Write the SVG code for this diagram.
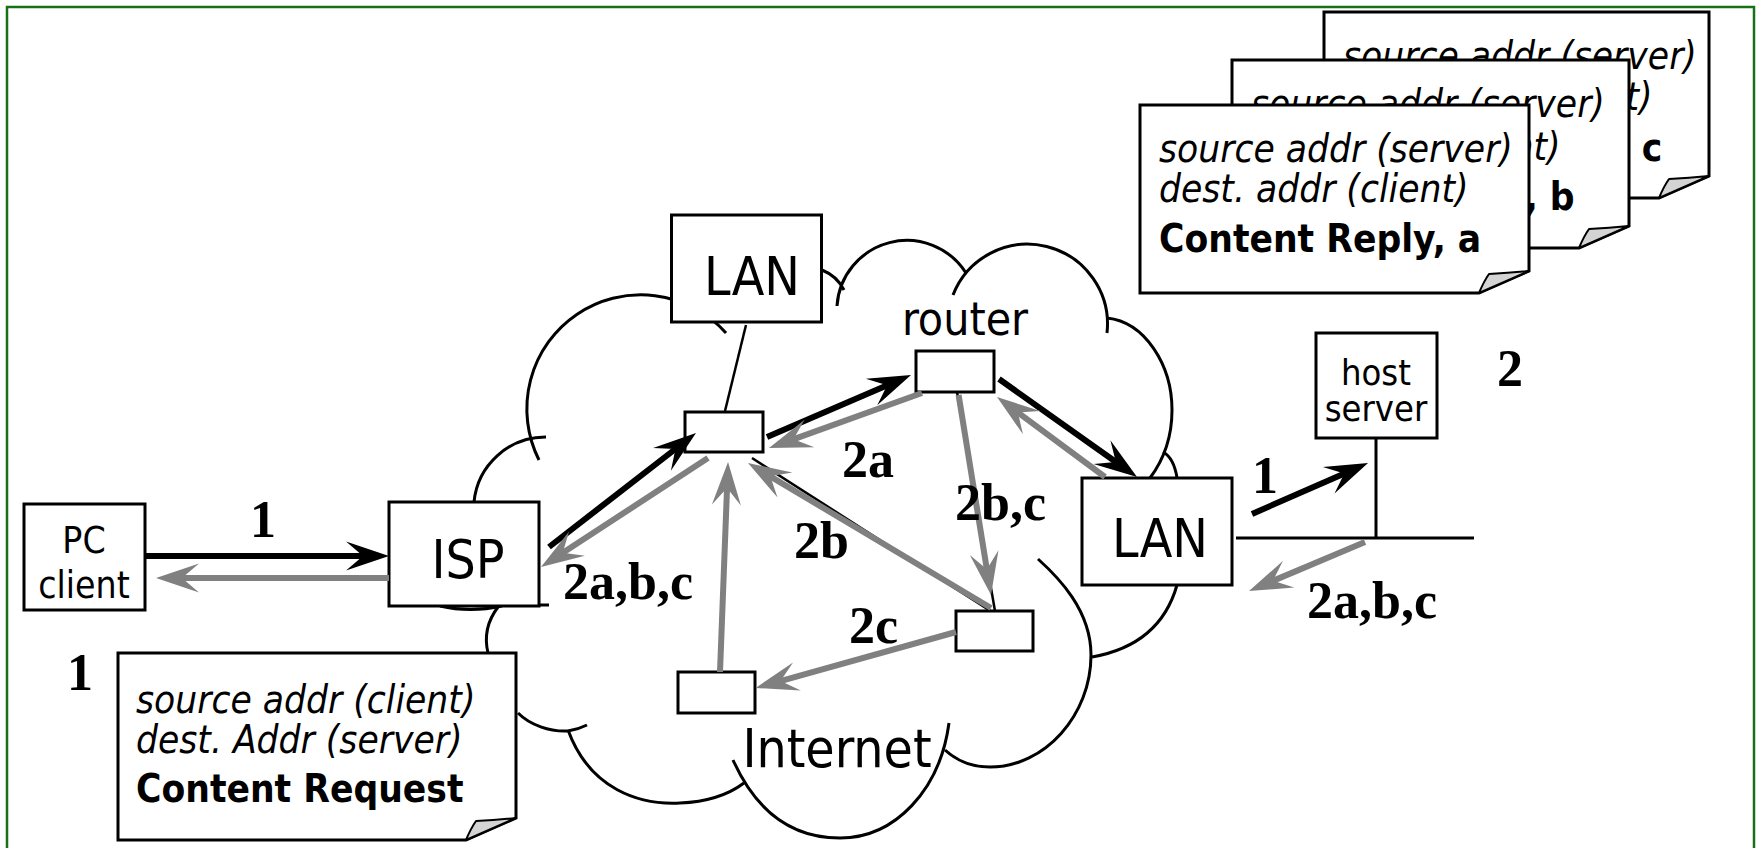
<svg xmlns="http://www.w3.org/2000/svg" width="1756" height="848" viewBox="0 0 1756 848">
<style>
.box{fill:#fff;stroke:#000;stroke-width:3}
.cl{fill:none;stroke:#000;stroke-width:3}
.lnk{fill:none;stroke:#000;stroke-width:2.5}
.blk{fill:none;stroke:#000;stroke-width:6}
.gry{fill:none;stroke:#808080;stroke-width:6}
.t{font-family:"DejaVu Sans Condensed","DejaVu Sans",sans-serif;font-stretch:condensed;fill:#000}
.lbl{font-family:"Liberation Serif","Times New Roman",serif;font-weight:bold;font-size:52px;fill:#000}
.note{fill:#fff;stroke:#000;stroke-width:3}
.fold{fill:#d4d4d4;stroke:#000;stroke-width:2;stroke-linejoin:round}
.it{font-family:"DejaVu Sans Condensed","DejaVu Sans",sans-serif;font-stretch:condensed;font-style:italic;font-size:38.5px}
.bd{font-family:"DejaVu Sans Condensed","DejaVu Sans",sans-serif;font-stretch:condensed;font-weight:bold;font-size:38.5px}
</style>
<defs>
<marker id="hb" markerUnits="userSpaceOnUse" viewBox="-25 -16 50 32" markerWidth="50" markerHeight="32" refX="0" refY="0" orient="auto"><path d="M22,0 L-21,-14.5 L-4,0 L-21,14.5 Z" fill="#000"/></marker>
<marker id="hg" markerUnits="userSpaceOnUse" viewBox="-25 -16 50 32" markerWidth="50" markerHeight="32" refX="0" refY="0" orient="auto"><path d="M22,0 L-21,-14.5 L-4,0 L-21,14.5 Z" fill="#808080"/></marker>
</defs>
<rect x="7" y="7" width="1747" height="850" fill="#fff" stroke="#187018" stroke-width="2.5"/>

<g id="cloud">
<path class="cl" d="M474,502 A72,72 0 0 1 546,437"/>
<path class="cl" d="M539,460 A114,114 0 0 1 726,333"/>
<path class="cl" d="M822,270 Q837,276 844,290"/>
<path class="cl" d="M837,306 A70,70 0 0 1 966,273"/>
<path class="cl" d="M953,295 A80,80 0 0 1 1107,333"/>
<path class="cl" d="M1107,318 C1145,322 1172,365 1172,410 C1172,440 1162,462 1150,478"/>
<path class="cl" d="M1163,452 Q1174,458 1177,478"/>
<path class="cl" d="M1177,585 Q1160,645 1092,657"/>
<path class="cl" d="M1038,559 C1058,577 1091,610 1091,655 C1091,715 1045,767 990,767 C972,767 957,761 945,750"/>
<path class="cl" d="M733,760 C760,820 800,838 840,838 C895,838 940,790 949,723"/>
<path class="cl" d="M568,730 C590,790 640,805 680,803 C705,802 728,795 744,783"/>
<path class="cl" d="M498,607 Q482,628 488,653"/>
<path class="cl" d="M518,713 C530,725 550,732 568,731 C575,730 581,728 587,725"/>
<path class="cl" d="M440,606 Q470,613 502,606"/>
<path class="cl" d="M538,605 H549"/>
<text class="t" x="837" y="767" font-size="53" text-anchor="middle">Internet</text>
<text class="t" x="965" y="335" font-size="46" text-anchor="middle">router</text>
</g>

<g id="links">
<path class="lnk" d="M746,325 L725,411"/>
<path class="lnk" d="M752,458 L992,612"/>
<path class="lnk" d="M957,392 L995,611"/>
<path class="cl" d="M1376,438 V538 M1236,538 H1474"/>
</g>

<g id="pc"><rect class="box" x="24" y="504" width="121" height="106"/>
<text class="t" font-size="37" text-anchor="middle"><tspan x="84" y="553">PC</tspan><tspan x="84" y="598">client</tspan></text></g>
<g id="isp"><rect class="box" x="389" y="502" width="150" height="104"/>
<text class="t" x="468" y="578" font-size="53" text-anchor="middle">ISP</text></g>
<g id="lan1"><rect class="box" x="671.5" y="215" width="150" height="107"/>
<text class="t" x="752" y="295" font-size="53" text-anchor="middle">LAN</text></g>
<g id="lan2"><rect class="box" x="1082" y="478" width="150" height="107"/>
<text class="t" x="1160" y="557" font-size="53" text-anchor="middle">LAN</text></g>
<g id="host"><rect class="box" x="1316" y="333" width="121" height="105"/>
<text class="t" font-size="36" text-anchor="middle"><tspan x="1376" y="385">host</tspan><tspan x="1376" y="421">server</tspan></text></g>
<g id="r1"><rect class="box" x="685" y="412" width="78" height="40"/></g>
<g id="r2"><rect class="box" x="916" y="351" width="78" height="41"/></g>
<g id="r3"><rect class="box" x="956" y="611" width="77" height="40"/></g>
<g id="r4"><rect class="box" x="678" y="672" width="77" height="41"/></g>

<g id="connectors">
<path class="blk" marker-end="url(#hb)" d="M146,556 L367,556"/>
<path class="gry" marker-end="url(#hg)" d="M389,578 L178,578"/>
<path class="blk" marker-end="url(#hb)" d="M549,547 L678.6,446.5"/>
<path class="gry" marker-end="url(#hg)" d="M708,458 L559.4,555"/>
<path class="blk" marker-end="url(#hb)" d="M767,437 L890.8,383.7"/>
<path class="gry" marker-end="url(#hg)" d="M922,393 L789.7,440.6"/>
<path class="gry" marker-end="url(#hg)" d="M720,672 L727.2,484"/>
<path class="gry" marker-end="url(#hg)" d="M991,608 L766.9,474.3"/>
<path class="gry" marker-end="url(#hg)" d="M958.6,395 L987.5,573.3"/>
<path class="gry" marker-end="url(#hg)" d="M956,632 L776.7,682.1"/>
<path class="blk" marker-end="url(#hb)" d="M999,379 L1119.1,464.3"/>
<path class="gry" marker-end="url(#hg)" d="M1105,477 L1014.7,410.1"/>
<path class="blk" marker-end="url(#hb)" d="M1252,514 L1347.9,471.9"/>
<path class="gry" marker-end="url(#hg)" d="M1365,542 L1269.3,582.4"/>
</g>

<g id="labels">
<text class="lbl" x="263" y="537" text-anchor="middle" font-size="50">1</text>
<text class="lbl" x="80" y="690" text-anchor="middle" font-size="50">1</text>
<text class="lbl" x="1265" y="493" text-anchor="middle" font-size="50">1</text>
<text class="lbl" x="1510" y="386" text-anchor="middle" font-size="50">2</text>
<text class="lbl" x="842" y="477">2a</text>
<text class="lbl" x="955" y="520">2b,c</text>
<text class="lbl" x="794" y="558">2b</text>
<text class="lbl" x="563" y="599">2a,b,c</text>
<text class="lbl" x="849" y="643">2c</text>
<text class="lbl" x="1307" y="618">2a,b,c</text>
</g>

<g id="note1">
<path class="note" d="M118,653 H516 V818 L466,840 H118 Z"/>
<path class="fold" d="M466,840 Q471,828 476,821 Q496,820 516,818 Z"/>
<text class="it" x="136" y="713">source addr (client)</text>
<text class="it" x="136" y="753">dest. Addr (server)</text>
<text class="bd" x="136" y="802">Content Request</text>
</g>
<g id="noteC">
<path class="note" d="M1324,12 H1709 V176 L1659,198 H1324 Z"/>
<path class="fold" d="M1659,198 Q1664,186 1669,179 Q1689,178 1709,176 Z"/>
<text class="it" x="1343" y="69">source addr (server)</text>
<text class="it" x="1343" y="110">dest. addr (client)</text>
<text class="bd" x="1343" y="161">Content Reply, c</text>
</g>
<g id="noteB">
<path class="note" d="M1232,60 H1629 V226 L1579,248 H1232 Z"/>
<path class="fold" d="M1579,248 Q1584,236 1589,229 Q1609,228 1629,226 Z"/>
<text class="it" x="1251" y="117">source addr (server)</text>
<text class="it" x="1251" y="160">dest. addr (client)</text>
<text class="bd" x="1251" y="210">Content Reply, b</text>
</g>
<g id="noteA">
<path class="note" d="M1140,105 H1529 V271 L1479,293 H1140 Z"/>
<path class="fold" d="M1479,293 Q1484,281 1489,274 Q1509,273 1529,271 Z"/>
<text class="it" x="1159" y="162">source addr (server)</text>
<text class="it" x="1159" y="202">dest. addr (client)</text>
<text class="bd" x="1159" y="252">Content Reply, a</text>
</g>
</svg>
